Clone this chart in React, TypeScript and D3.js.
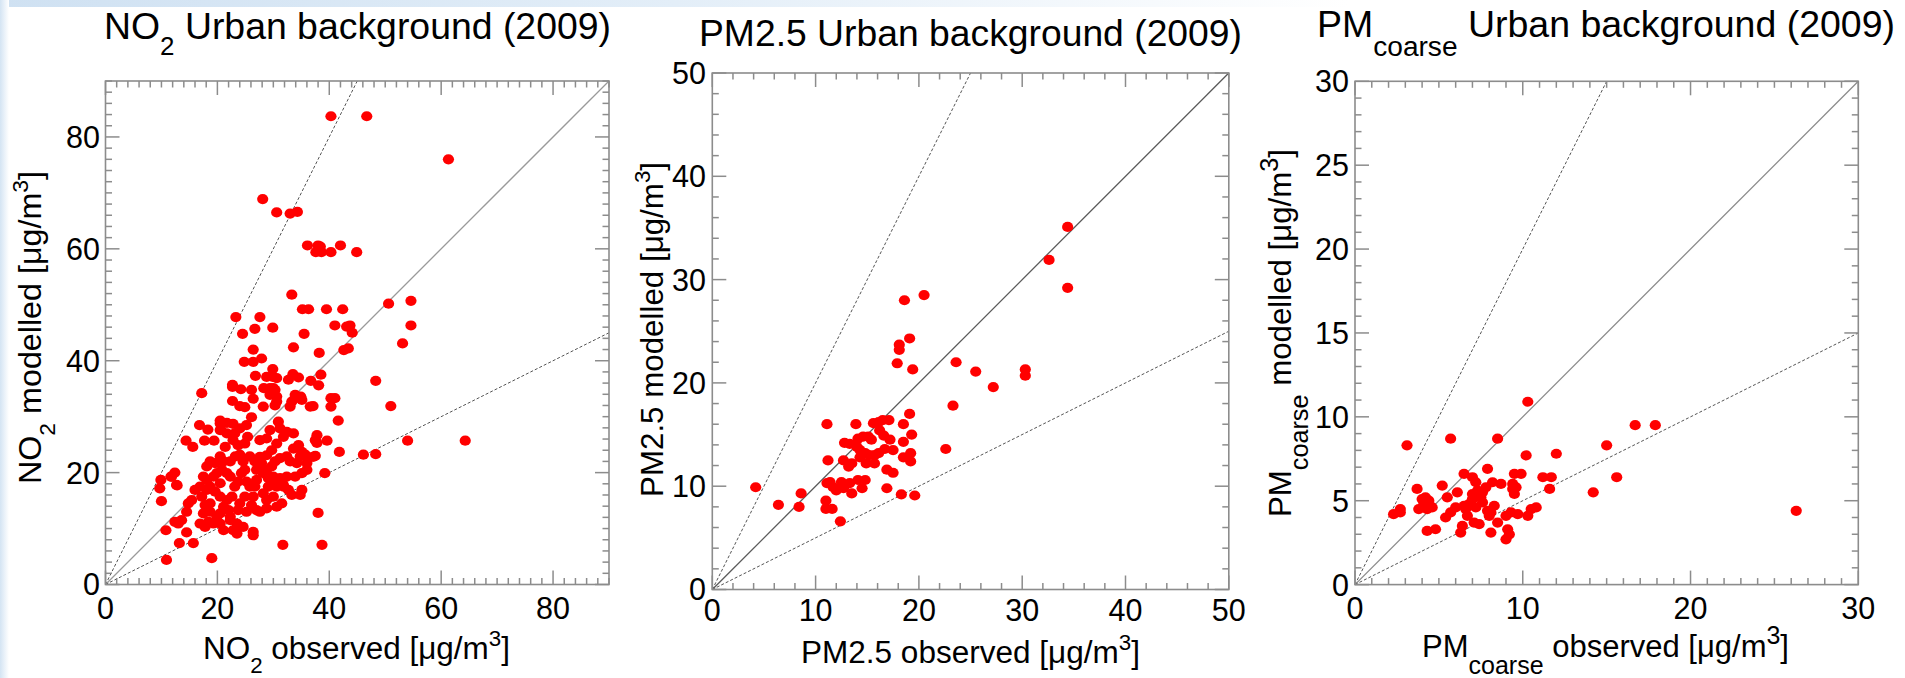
import React from 'react';
import * as d3 from 'd3';

// ---------------- DATA ----------------
// NO2 urban background (2009): observed / modelled pairs [µg/m3]
const no2Observed = [40.3,46.7,61.3,28.1,30.6,33.0,34.3,36.1,38.0,38.4,37.6,38.6,40.3,42.0,44.9,33.3,23.3,27.6,24.5,26.7,29.9,35.2,36.3,39.5,42.4,50.6,54.6,41.0,43.1,43.7,44.1,54.6,35.5,26.4,33.6,38.2,42.6,43.4,53.1,48.3,51.0,24.8,26.4,27.9,17.2,22.7,22.7,24.2,26.1,26.4,26.8,28.8,29.9,29.9,30.6,28.3,29.4,30.3,29.4,30.6,30.6,28.2,30.3,22.7,24.0,24.9,26.1,32.7,33.5,34.5,33.0,33.9,34.9,36.6,37.1,36.7,38.1,38.5,40.3,41.0,40.3,41.6,41.8,46.1,48.3,54.0,64.3,39.2,39.6,37.8,37.5,38.0,38.7,31.7,19.0,10.9,10.8,13.2,14.5,15.7,10.0,9.7,9.9,12.4,11.7,12.8,14.4,15.6,16.8,18.3,17.7,19.4,20.5,20.6,21.4,29.4,30.0,33.3,33.9,35.1,20.5,21.7,22.8,24.0,25.2,20.5,21.7,23.1,22.8,23.7,24.9,25.4,27.6,28.8,29.4,30.9,31.2,32.4,33.6,34.5,33.6,31.8,30.6,29.7,28.8,27.6,35.1,36.0,37.5,37.8,37.1,33.9,34.8,35.1,31.5,30.6,30.0,30.6,31.8,28.2,29.1,30.0,27.6,27.0,26.7,26.4,24.9,24.0,25.2,27.6,28.8,22.8,23.5,24.6,26.4,26.4,23.5,22.3,22.0,21.1,20.5,19.9,18.7,17.8,17.2,18.1,18.7,19.6,20.5,21.7,22.6,23.1,23.7,22.3,19.3,19.9,20.5,20.8,21.7,18.1,17.5,16.9,16.0,15.4,14.8,14.5,13.6,13.0,12.4,16.9,17.8,18.4,11.8,12.7,18.1,18.7,19.6,20.5,21.1,22.3,23.2,24.0,24.6,25.8,26.7,27.0,27.9,28.8,29.7,30.3,31.2,32.4,33.0,34.2,34.8,35.7,36.0,35.1,32.4,31.2,31.8,32.7,33.3,30.0,28.8,28.2,29.1,25.8,25.2,24.3,24.9,27.0,26.1,23.7,22.3,20.5,19.3,21.1,18.7,17.5];
const no2Modelled = [83.7,83.7,76.0,68.9,66.5,66.3,66.6,60.6,60.6,60.4,59.4,59.4,59.4,60.6,59.4,51.8,47.8,47.8,44.8,45.7,45.9,49.2,49.2,49.2,49.2,50.2,50.7,46.3,46.1,46.3,45.0,46.3,44.8,42.0,42.4,41.4,41.9,42.2,43.1,36.4,31.9,39.8,39.8,40.4,34.2,35.7,35.3,34.9,34.8,33.2,37.3,37.1,38.5,37.1,36.9,35.1,35.1,34.8,33.9,33.6,32.7,31.8,32.0,32.8,31.9,31.7,29.9,36.6,37.6,37.0,31.8,33.3,33.6,31.8,31.9,36.4,35.6,37.5,33.3,33.3,31.8,29.3,23.7,23.2,23.3,25.7,25.7,19.9,25.7,25.3,23.0,12.8,7.1,7.1,4.7,4.4,9.7,7.4,9.3,7.4,14.9,17.2,18.7,20.0,19.3,17.7,25.7,24.6,28.5,27.7,25.7,25.7,28.8,27.7,24.6,34.5,35.1,32.7,33.9,33.0,29.3,28.9,28.7,27.9,28.5,27.6,27.0,27.0,25.8,24.9,25.2,26.4,25.8,26.1,27.6,29.1,27.9,27.3,27.0,24.9,24.3,26.4,25.2,24.0,23.1,22.8,23.7,21.7,25.8,26.7,22.8,19.3,16.0,16.9,14.5,13.9,17.8,17.5,17.8,19.9,19.0,19.3,21.1,18.7,17.5,15.7,15.7,14.5,13.0,13.0,13.6,9.7,9.1,10.3,9.4,8.8,10.9,11.5,13.3,13.9,12.7,12.1,13.0,14.2,15.7,16.9,17.5,16.6,15.7,15.1,15.7,17.5,18.4,19.3,19.3,19.9,18.1,20.5,19.9,18.7,19.3,17.5,16.9,15.1,14.5,13.0,11.5,10.9,11.2,10.9,10.3,11.2,19.3,17.8,21.1,22.0,21.7,22.9,22.0,22.0,22.9,23.2,22.0,22.9,22.0,20.5,21.7,20.5,21.1,22.0,22.6,22.9,22.0,21.7,22.9,23.2,20.5,19.9,19.3,19.0,17.5,16.9,16.0,15.7,15.1,16.3,17.5,17.5,18.4,19.9,20.5,13.3,14.2,13.3,12.1,10.9,10.9,9.7,14.5,12.7];

// PM2.5 urban background (2009)
const pm25Observed = [34.4,32.6,34.4,18.6,20.5,19.1,18.1,18.1,17.9,19.4,23.6,25.5,30.3,30.3,27.2,23.3,22.6,4.2,6.4,8.4,8.6,19.1,18.5,19.3,17.1,16.5,16.1,15.6,13.9,11.1,12.8,13.3,14.1,14.6,15.1,15.4,16.2,16.6,17.2,17.5,16.7,16.1,15.7,15.2,14.8,14.3,14.0,18.5,19.2,19.2,18.5,16.9,16.9,17.5,15.7,14.9,14.3,13.5,13.2,12.7,11.2,12.5,13.3,14.1,14.8,14.5,13.5,12.7,11.7,11.4,11.1,12.0,18.3,19.6,11.0,11.0,11.6,12.4];
const pm25Modelled = [35.1,31.9,29.2,28.0,28.5,24.3,23.7,23.2,21.9,21.3,22.0,21.1,21.3,20.7,19.6,17.8,13.6,9.9,8.2,8.0,9.3,17.0,16.0,15.0,16.4,16.4,16.2,16.1,16.0,16.0,14.2,14.1,14.6,14.8,14.8,14.5,15.4,14.9,14.5,13.5,13.6,13.2,13.0,13.0,13.2,13.5,13.8,14.3,13.2,12.4,12.8,11.6,9.8,11.3,12.2,12.2,12.8,12.2,11.9,12.5,12.5,10.4,10.3,10.6,10.6,9.8,9.3,9.8,9.9,10.4,10.3,9.6,9.2,9.1,8.6,7.8,7.8,6.6];

// PMcoarse urban background (2009)
const pmcObserved = [10.3,3.1,5.7,8.5,10.2,12.0,16.7,17.9,15.0,15.6,14.2,7.9,6.5,7.0,7.2,9.5,9.9,11.2,11.7,11.6,8.7,8.2,7.8,7.6,7.3,7.0,7.0,7.5,7.6,7.2,6.8,6.5,6.6,6.1,5.2,5.5,3.7,4.0,4.2,4.4,4.6,4.3,3.8,4.1,2.3,2.7,2.7,5.4,5.7,6.0,6.7,6.4,6.3,4.3,4.8,7.1,7.4,8.1,7.9,8.0,8.1,8.3,8.5,9.0,9.3,9.7,9.4,9.5,9.4,9.6,9.0,9.2,9.1,10.3,10.5,10.8,26.3];
const pmcModelled = [10.9,8.3,8.7,8.7,7.7,7.8,9.5,9.5,8.3,6.4,5.5,6.9,6.6,6.4,6.1,6.6,6.6,6.4,6.4,5.7,6.0,6.1,5.8,5.5,5.6,5.4,5.1,5.2,4.9,4.6,4.8,4.7,4.5,5.5,5.9,5.2,5.7,5.1,5.2,5.0,4.6,4.5,4.5,4.8,4.2,4.5,4.3,4.0,4.3,4.6,4.1,3.5,3.1,3.2,3.3,3.7,3.6,3.1,4.4,4.1,4.3,4.7,3.7,4.1,4.3,4.2,5.7,5.4,6.0,5.8,2.7,3.0,3.3,4.1,4.5,4.6,4.4];

// Axis tick values
const no2Ticks = [0, 20, 40, 60, 80];
const pm25Ticks = [0, 10, 20, 30, 40, 50];
const pmcXTicks = [0, 10, 20, 30];
const pmcYTicks = [0, 5, 10, 15, 20, 25, 30];

// ---------------- LAYOUT ----------------
const FONT = '"Liberation Sans", Arial, Helvetica, sans-serif';

type Seg = { t: string; s?: 'sub' | 'sup' };

type PanelCfg = {
  left: number; top: number; size: number; max: number;
  xTicks: number[]; yTicks: number[]; xMinor: number; yMinor: number;
  obs: number[]; mod: number[];
  oneToOne: string;
  title: Seg[]; titleX: number; titleY: number; titleLen: number; titleSub: number;
  xlab: Seg[]; xlabX: number; xlabY: number; xlabLen: number;
  ylab: Seg[]; ylabX: number; ylabY: number; ylabLen: number;
  yTickRight: number; xTickBase: number;
};

const ugm: Seg[] = [{ t: ' [\u03bcg/m' }, { t: '3', s: 'sup' }, { t: ']' }];

const panels: PanelCfg[] = [
  {
    left: 105.5, top: 81, size: 503.5, max: 90,
    xTicks: no2Ticks, yTicks: no2Ticks, xMinor: 2, yMinor: 2,
    obs: no2Observed, mod: no2Modelled, oneToOne: '#9a9a9a',
    title: [{ t: 'NO' }, { t: '2', s: 'sub' }, { t: ' Urban background (2009)' }],
    titleX: 104, titleY: 39, titleLen: 507, titleSub: 16,
    xlab: [{ t: 'NO' }, { t: '2', s: 'sub' }, { t: ' observed' }, ...ugm],
    xlabX: 203, xlabY: 659, xlabLen: 307,
    ylab: [{ t: 'NO' }, { t: '2', s: 'sub' }, { t: ' modelled' }, ...ugm],
    ylabX: 41, ylabY: 484, ylabLen: 313,
    yTickRight: 100, xTickBase: 618.5,
  },
  {
    left: 712.3, top: 73, size: 516.5, max: 50,
    xTicks: pm25Ticks, yTicks: pm25Ticks, xMinor: 2, yMinor: 2,
    obs: pm25Observed, mod: pm25Modelled, oneToOne: '#5a5a5a',
    title: [{ t: 'PM2.5 Urban background (2009)' }],
    titleX: 699, titleY: 45.5, titleLen: 543, titleSub: 0,
    xlab: [{ t: 'PM2.5 observed' }, ...ugm],
    xlabX: 801, xlabY: 663, xlabLen: 339,
    ylab: [{ t: 'PM2.5 modelled' }, ...ugm],
    ylabX: 662.5, ylabY: 497, ylabLen: 335,
    yTickRight: 706, xTickBase: 621,
  },
  {
    left: 1355, top: 81.3, size: 503.3, max: 30,
    xTicks: pmcXTicks, yTicks: pmcYTicks, xMinor: 1, yMinor: 1,
    obs: pmcObserved, mod: pmcModelled, oneToOne: '#8a8a8a',
    title: [{ t: 'PM' }, { t: 'coarse', s: 'sub' }, { t: ' Urban background (2009)' }],
    titleX: 1317, titleY: 37, titleLen: 578, titleSub: 19,
    xlab: [{ t: 'PM' }, { t: 'coarse', s: 'sub' }, { t: ' observed' }, ...ugm],
    xlabX: 1422, xlabY: 657, xlabLen: 367,
    ylab: [{ t: 'PM' }, { t: 'coarse', s: 'sub' }, { t: ' modelled' }, ...ugm],
    ylabX: 1290.5, ylabY: 517, ylabLen: 368,
    yTickRight: 1349, xTickBase: 618.5,
  },
];

function RichText({ segs, size, subShift, supShift, subSize }: { segs: Seg[]; size: number; subShift: number; supShift: number; subSize: number }) {
  let cur = 0;
  const out: React.ReactNode[] = [];
  segs.forEach((sg, i) => {
    const target = sg.s === 'sub' ? subShift : sg.s === 'sup' ? -supShift : 0;
    const dy = target - cur;
    cur = target;
    out.push(
      <tspan key={i} dy={dy} fontSize={sg.s ? subSize : size} style={{ whiteSpace: 'pre' }}>{sg.t}</tspan>
    );
  });
  return <>{out}</>;
}

function Panel({ cfg }: { cfg: PanelCfg }) {
  const { left, top, size, max } = cfg;
  const x = d3.scaleLinear().domain([0, max]).range([left, left + size]);
  const y = d3.scaleLinear().domain([0, max]).range([top + size, top]);
  const axisColor = '#8c8c8c';
  const majLen = 14;
  const minLen = 6.5;
  const xMinorVals = d3.range(0, max + 1e-9, cfg.xMinor).filter(v => !cfg.xTicks.some(t => Math.abs(t - v) < 1e-9));
  const yMinorVals = d3.range(0, max + 1e-9, cfg.yMinor).filter(v => !cfg.yTicks.some(t => Math.abs(t - v) < 1e-9));
  const line = d3.line<[number, number]>().x(d => x(d[0])).y(d => y(d[1]));
  const bottom = top + size;
  const right = left + size;
  const ticks: React.ReactNode[] = [];
  const addX = (v: number, len: number, k: string) => {
    ticks.push(<line key={'xb' + k} x1={x(v)} x2={x(v)} y1={bottom} y2={bottom - len} />);
    ticks.push(<line key={'xt' + k} x1={x(v)} x2={x(v)} y1={top} y2={top + len} />);
  };
  const addY = (v: number, len: number, k: string) => {
    ticks.push(<line key={'yl' + k} x1={left} x2={left + len} y1={y(v)} y2={y(v)} />);
    ticks.push(<line key={'yr' + k} x1={right} x2={right - len} y1={y(v)} y2={y(v)} />);
  };
  cfg.xTicks.forEach((v, i) => addX(v, majLen, 'M' + i));
  xMinorVals.forEach((v, i) => addX(v, minLen, 'm' + i));
  cfg.yTicks.forEach((v, i) => addY(v, majLen, 'M' + i));
  yMinorVals.forEach((v, i) => addY(v, minLen, 'm' + i));

  return (
    <g>
      {/* reference lines */}
      <path d={line([[0, 0], [max / 2, max]]) || ''} fill="none" stroke="#555" strokeWidth={1} strokeDasharray="3,2" />
      <path d={line([[0, 0], [max, max]]) || ''} fill="none" stroke={cfg.oneToOne} strokeWidth={1.3} />
      <path d={line([[0, 0], [max, max / 2]]) || ''} fill="none" stroke="#555" strokeWidth={1} strokeDasharray="3,2" />
      {/* points */}
      <g fill="#ff0000">
        {cfg.obs.map((o, i) => (
          <ellipse key={i} cx={x(o)} cy={y(cfg.mod[i])} rx={5.6} ry={5.1} />
        ))}
      </g>
      {/* box and ticks */}
      <rect x={left} y={top} width={size} height={size} fill="none" stroke={axisColor} strokeWidth={1.6} />
      <g stroke={axisColor} strokeWidth={1.5}>{ticks}</g>
      {/* tick labels */}
      <g fontFamily={FONT} fontSize={30.5} fill="#000">
        {cfg.xTicks.map((v, i) => (
          <text key={'xl' + i} x={x(v)} y={cfg.xTickBase} textAnchor="middle">{v}</text>
        ))}
        {cfg.yTicks.map((v, i) => (
          <text key={'yl' + i} x={cfg.yTickRight} y={y(v) + 10.9} textAnchor="end">{v}</text>
        ))}
      </g>
      {/* title */}
      <text x={cfg.titleX} y={cfg.titleY} fontFamily={FONT} fontSize={36} textLength={cfg.titleLen} lengthAdjust="spacingAndGlyphs">
        <RichText segs={cfg.title} size={36} subShift={cfg.titleSub} supShift={0} subSize={cfg.title[1]?.t === 'coarse' ? 27 : 25} />
      </text>
      {/* x label */}
      <text x={cfg.xlabX} y={cfg.xlabY} fontFamily={FONT} fontSize={31} textLength={cfg.xlabLen} lengthAdjust="spacingAndGlyphs">
        <RichText segs={cfg.xlab} size={31} subShift={cfg.xlab[1]?.t === 'coarse' ? 17 : 14} supShift={13} subSize={cfg.xlab[1]?.t === 'coarse' ? 25 : 22} />
      </text>
      {/* y label */}
      <text transform={`translate(${cfg.ylabX},${cfg.ylabY}) rotate(-90)`} fontFamily={FONT} fontSize={31} textLength={cfg.ylabLen} lengthAdjust="spacingAndGlyphs">
        <RichText segs={cfg.ylab} size={31} subShift={cfg.ylab[1]?.t === 'coarse' ? 17 : 14} supShift={13} subSize={cfg.ylab[1]?.t === 'coarse' ? 25 : 22} />
      </text>
    </g>
  );
}

export default function App() {
  return (
    <svg width={1905} height={678} viewBox="0 0 1905 678" style={{ position: 'absolute', left: 0, top: 0, background: '#fff' }}>
      <defs>
        <linearGradient id="topband" x1="0" x2="1" y1="0" y2="0">
          <stop offset="0" stopColor="#cfe1f2" />
          <stop offset="0.5" stopColor="#e3eef8" />
          <stop offset="1" stopColor="#ffffff" />
        </linearGradient>
        <linearGradient id="leftband" x1="0" x2="1" y1="0" y2="0">
          <stop offset="0" stopColor="#d4e4f3" />
          <stop offset="1" stopColor="#ffffff" />
        </linearGradient>
      </defs>
      <rect x={0} y={0} width={1905} height={678} fill="#fff" />
      <rect x={0} y={0} width={1350} height={7} fill="url(#topband)" />
      <rect x={0} y={0} width={9} height={678} fill="url(#leftband)" />
      {panels.map((p, i) => <Panel key={i} cfg={p} />)}
    </svg>
  );
}
